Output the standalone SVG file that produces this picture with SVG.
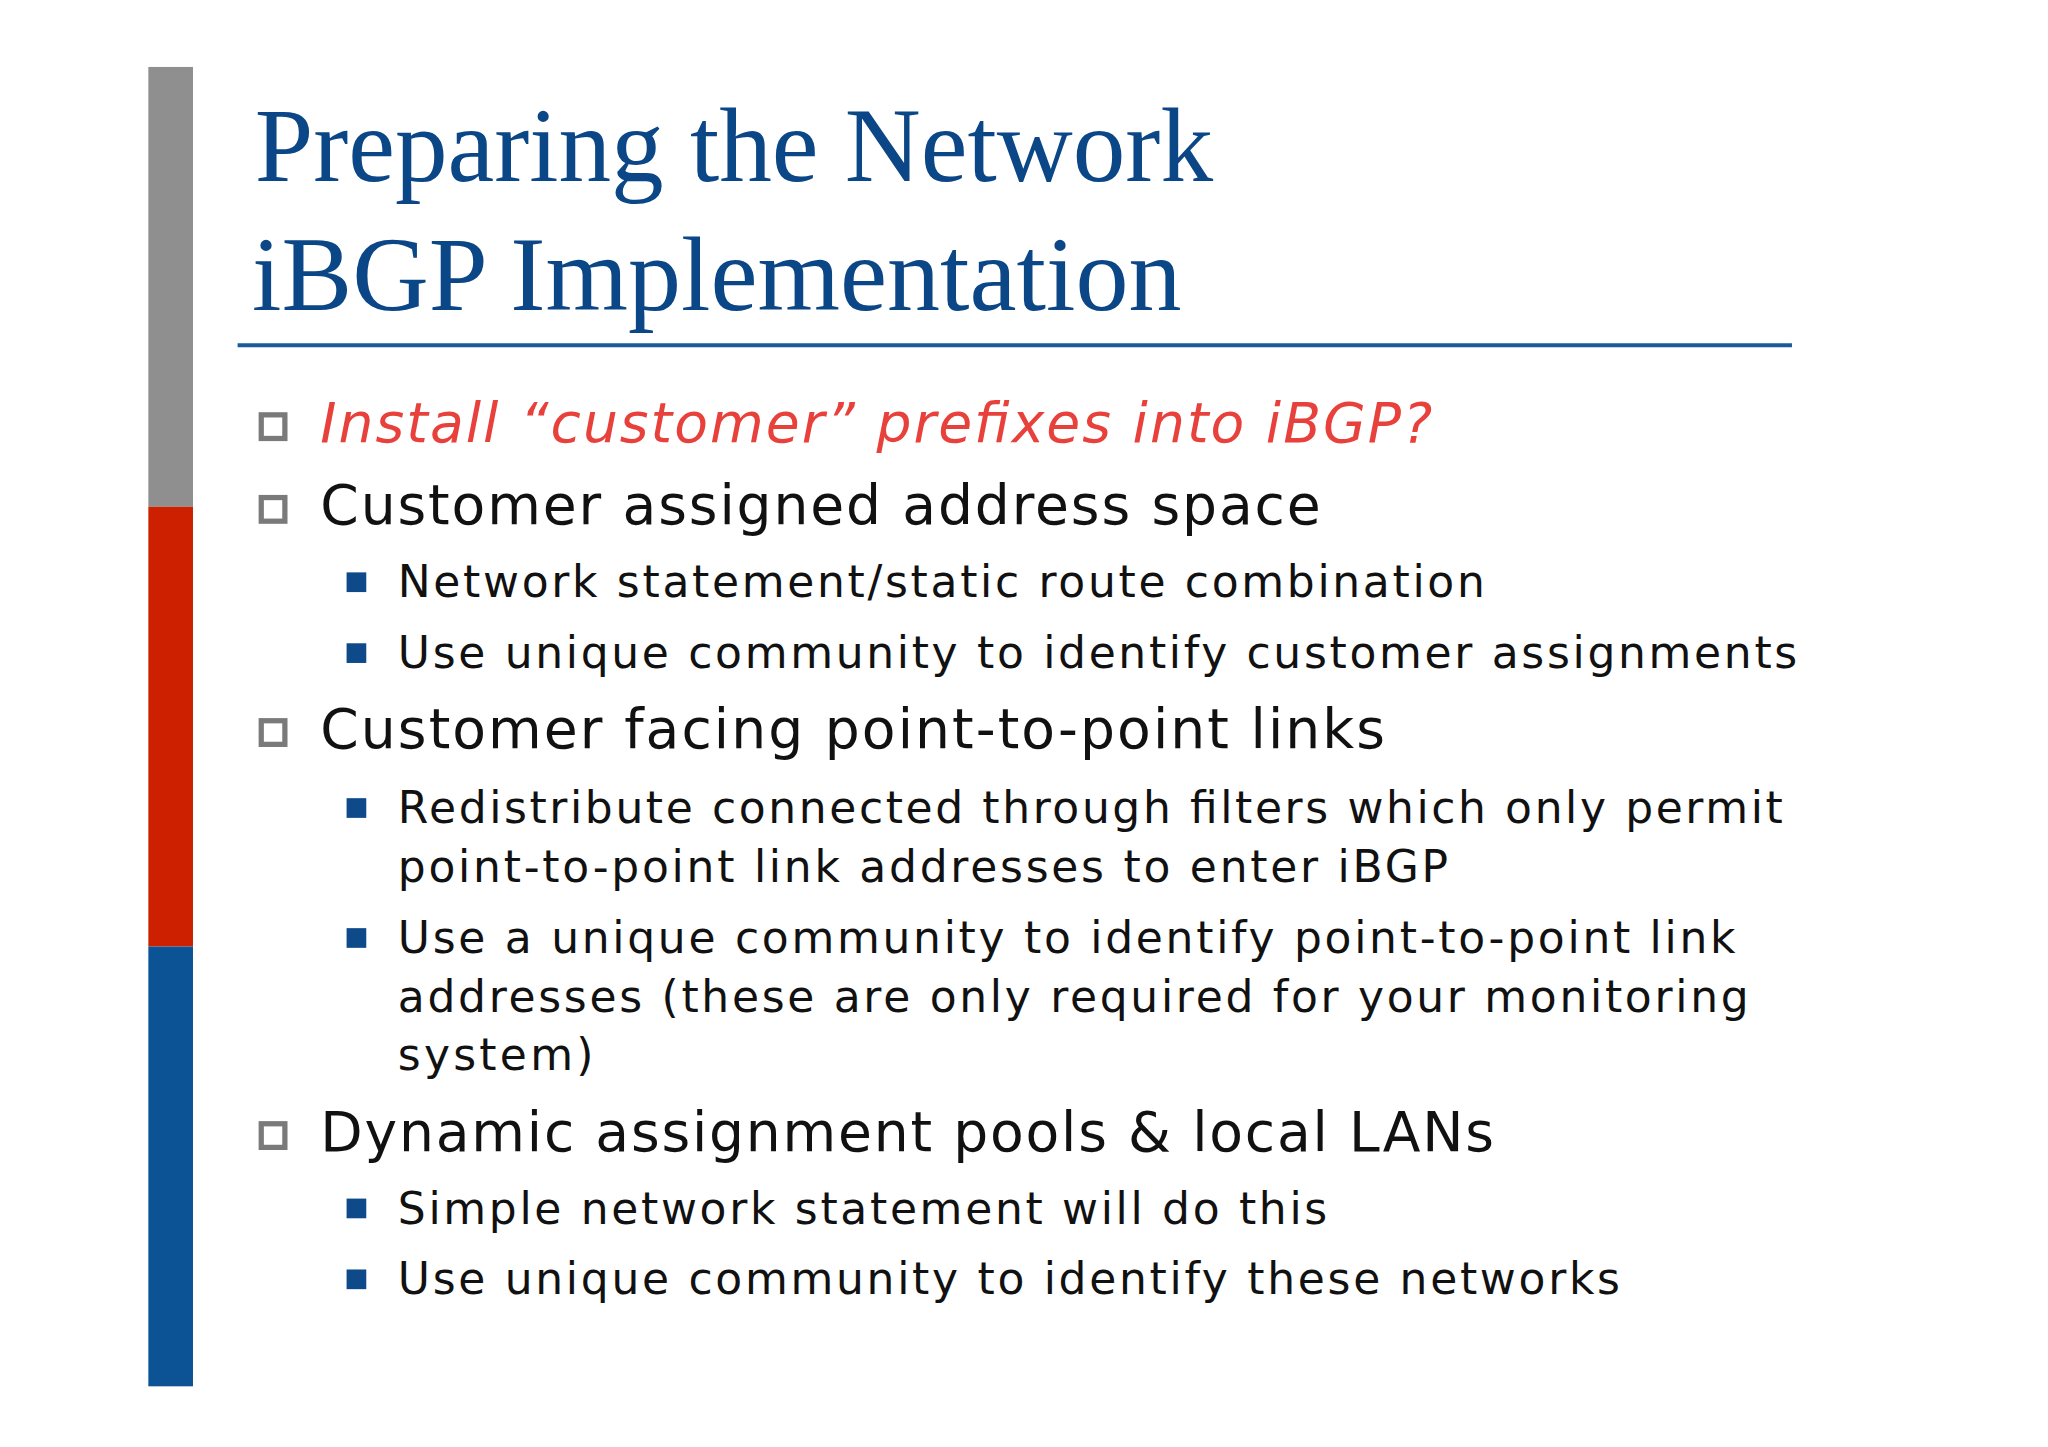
<svg xmlns="http://www.w3.org/2000/svg" width="2048" height="1447" viewBox="0 0 2048 1447">
<style>
.t{font-family:"Liberation Serif",serif;fill:#0b4687;font-size:80px}
.b{font-family:"DejaVu Sans",Verdana,sans-serif;fill:#111;font-size:42px}
.s{font-family:"DejaVu Sans",Verdana,sans-serif;fill:#111;font-size:33.5px}
.hb{fill:none;stroke:#7a7a7a;stroke-width:4}
.fb{fill:#0e4a8a}
</style>
<rect width="2048" height="1447" fill="#fff"/>
<g transform="scale(1.3128)">
<g id="bar">
<rect x="113" y="51" width="34" height="335" fill="#8f8f8f"/>
<rect x="113" y="386" width="34" height="335" fill="#cc2000"/>
<rect x="113" y="721" width="34" height="335" fill="#0b5394"/>
</g>
<g id="title">
<text class="t" x="194" y="138" textLength="730" lengthAdjust="spacingAndGlyphs">Preparing the Network</text>
<text class="t" x="192" y="236" textLength="708" lengthAdjust="spacingAndGlyphs">iBGP Implementation</text>
<line x1="181" y1="263" x2="1365" y2="263" stroke="#1a5a9a" stroke-width="3"/>
</g>
<g id="bullets">
<rect class="hb" x="199" y="316" width="18" height="18"/>
<text class="b" x="244" y="337" textLength="847" style="fill:#e8413c;font-style:italic">Install “customer” prefixes into iBGP?</text>
<rect class="hb" x="199" y="379" width="18" height="18"/>
<text class="b" x="244" y="399" textLength="762">Customer assigned address space</text>
<rect class="fb" x="264" y="436" width="15" height="15"/>
<text class="s" x="303" y="455" textLength="828">Network statement/static route combination</text>
<rect class="fb" x="264" y="490" width="15" height="15"/>
<text class="s" x="303" y="509" textLength="1066">Use unique community to identify customer assignments</text>
<rect class="hb" x="199" y="549" width="18" height="18"/>
<text class="b" x="244" y="570" textLength="811">Customer facing point-to-point links</text>
<rect class="fb" x="264" y="608" width="15" height="15"/>
<text class="s" x="303" y="627" textLength="1055">Redistribute connected through filters which only permit</text>
<text class="s" x="303" y="672" textLength="800">point-to-point link addresses to enter iBGP</text>
<rect class="fb" x="264" y="707" width="15" height="15"/>
<text class="s" x="303" y="726" textLength="1019">Use a unique community to identify point-to-point link</text>
<text class="s" x="303" y="771" textLength="1029">addresses (these are only required for your monitoring</text>
<text class="s" x="303" y="815" textLength="149">system)</text>
<rect class="hb" x="199" y="856" width="18" height="18"/>
<text class="b" x="244" y="877" textLength="894">Dynamic assignment pools &amp; local LANs</text>
<rect class="fb" x="264" y="913" width="15" height="15"/>
<text class="s" x="303" y="932" textLength="708">Simple network statement will do this</text>
<rect class="fb" x="264" y="967" width="15" height="15"/>
<text class="s" x="303" y="986" textLength="931">Use unique community to identify these networks</text>
</g>
</g>
</svg>
